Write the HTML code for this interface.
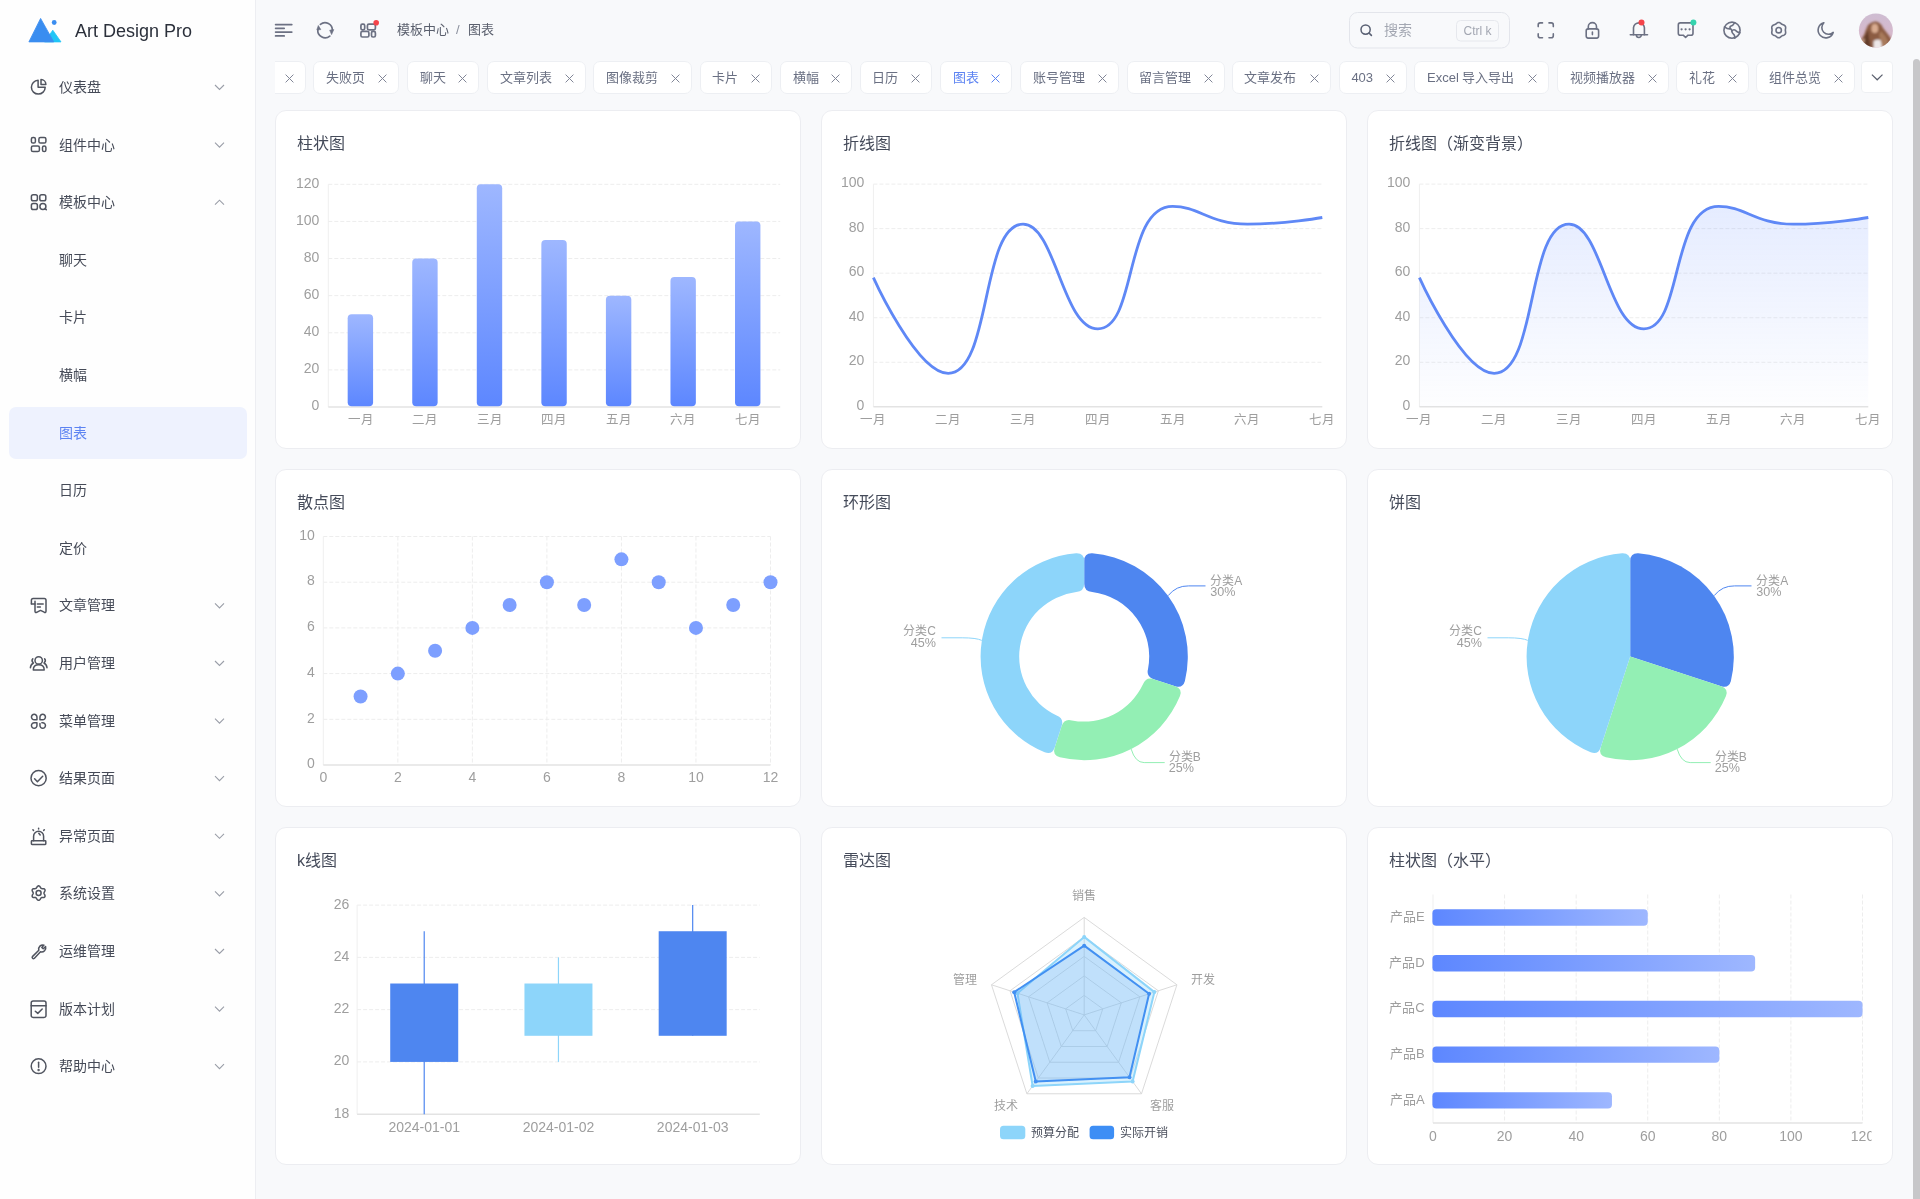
<!DOCTYPE html>
<html lang="zh-CN"><head><meta charset="utf-8"><title>Art Design Pro</title>
<style>
*{box-sizing:border-box;margin:0;padding:0}
html,body{width:1920px;height:1199px;overflow:hidden}
body{background:#F8F9FB;font-family:"Liberation Sans",sans-serif;position:relative;color:#3A3F4B}
.abs{position:absolute}
#side{position:absolute;left:0;top:0;width:256px;height:1199px;background:#FEFEFE;border-right:1px solid #EDEEF2}
.logo-t{position:absolute;left:75px;top:20px;font-size:18px;line-height:22px;color:#2B303B;white-space:nowrap}
.mi{position:absolute;left:59px;height:20px;line-height:20.6px;font-size:14px;color:#454A57;white-space:nowrap}
.mi.act{color:#5C83F2}
.hl{position:absolute;left:9px;width:237.5px;height:52px;border-radius:7px;background:#EEF2FE}
.tab{position:absolute;top:61px;height:33.4px;background:#fff;border:1px solid #EDEFF3;border-radius:7px;font-size:13px;color:#6A7083;white-space:nowrap}
.tab span{position:absolute;left:11.9px;top:0;line-height:31.4px}
.tab.act{color:#5C83F2}
.card{position:absolute;width:526px;background:#fff;border:1px solid #ECEDF1;border-radius:11px}
.ct{position:absolute;left:21px;top:22px;font-size:16px;line-height:22px;color:#454B5A;white-space:nowrap}
svg text{font-family:"Liberation Sans",sans-serif}
</style></head><body>
<div id="root" style="position:absolute;left:0;top:0;width:1920px;height:1199px;will-change:transform">
<div id="side">
<svg class="abs" style="left:0;top:0" width="256" height="60" viewBox="0 0 256 60">
<path d="M44.5 41.9 L52.8 30.2 L61 41.9 Z" fill="#20C5F6" stroke="#20C5F6" stroke-width="0.8" stroke-linejoin="round"/>
<path d="M28.9 41.9 L40.6 18.4 L53.75 41.9 Z" fill="#3A8DF0" stroke="#3A8DF0" stroke-width="0.8" stroke-linejoin="round"/>
<circle cx="54.2" cy="22.5" r="2.4" fill="#3A8DF0"/>
</svg>
<div class="logo-t">Art Design Pro</div>
<div class="mi" style="top:77px">仪表盘</div>
<div class="mi" style="top:134.6px">组件中心</div>
<div class="mi" style="top:192.2px">模板中心</div>
<div class="mi" style="top:249.8px">聊天</div>
<div class="mi" style="top:307.4px">卡片</div>
<div class="mi" style="top:365px">横幅</div>
<div class="hl" style="top:406.6px"></div>
<div class="mi act" style="top:422.6px">图表</div>
<div class="mi" style="top:480.2px">日历</div>
<div class="mi" style="top:537.8px">定价</div>
<div class="mi" style="top:595.4px">文章管理</div>
<div class="mi" style="top:653px">用户管理</div>
<div class="mi" style="top:710.6px">菜单管理</div>
<div class="mi" style="top:768.2px">结果页面</div>
<div class="mi" style="top:825.8px">异常页面</div>
<div class="mi" style="top:883.4px">系统设置</div>
<div class="mi" style="top:941px">运维管理</div>
<div class="mi" style="top:998.6px">版本计划</div>
<div class="mi" style="top:1056.2px">帮助中心</div>
<svg class="abs" style="left:0;top:0" width="256" height="1199" viewBox="0 0 256 1199"><path d="M215 85 l4.5 4.5 l4.5 -4.5" fill="none" stroke="#9A9EA8" stroke-width="1.1"/><g transform="translate(38.6 87)" fill="none" stroke="#50545F" stroke-width="1.5" stroke-linecap="round" stroke-linejoin="round"><path d="M-0.5 -6.7 A6.9 6.9 0 1 0 6.6 0.3 H-0.5 Z"/><path d="M2.4 -2.6 V-7.5 A5 5 0 0 1 7.3 -2.6 Z"/></g><path d="M215 142.6 l4.5 4.5 l4.5 -4.5" fill="none" stroke="#9A9EA8" stroke-width="1.1"/><g transform="translate(38.6 144.6)" fill="none" stroke="#50545F" stroke-width="1.5" stroke-linecap="round" stroke-linejoin="round"><rect x="-7.2" y="-7.2" width="4" height="5.6" rx="1.6"/><rect x="0.3" y="-7.2" width="7" height="5.6" rx="1.6"/><rect x="-7.2" y="1.4" width="8" height="5.6" rx="1.6"/><rect x="3.9" y="1.4" width="3.4" height="5.6" rx="1.6"/></g><path d="M215 204.7 l4.5 -4.5 l4.5 4.5" fill="none" stroke="#9A9EA8" stroke-width="1.1"/><g transform="translate(38.6 202.2)" fill="none" stroke="#50545F" stroke-width="1.5" stroke-linecap="round" stroke-linejoin="round"><rect x="-7.2" y="-7.5" width="6" height="6" rx="1.8"/><rect x="1.2" y="-7.5" width="6" height="6" rx="1.8"/><rect x="-7.2" y="1.4" width="6" height="6" rx="1.8"/><circle cx="4.3" cy="4.2" r="3"/><path d="M6.5 6.4 L7.7 7.6"/></g><path d="M215 603.4 l4.5 4.5 l4.5 -4.5" fill="none" stroke="#9A9EA8" stroke-width="1.1"/><g transform="translate(38.6 605.4)" fill="none" stroke="#50545F" stroke-width="1.5" stroke-linecap="round" stroke-linejoin="round"><path d="M-7.2 -1.6 V-5.2 Q-7.2 -7 -5.5 -7 H5.7 Q7.4 -7 7.4 -5.2 V5.6 Q7.4 7.6 5.6 6.8 L1.9 5 L-1.9 6.9 Q-3.6 7.6 -3.6 5.8 V-4.2"/><path d="M-7.2 -1.4 H-3.6"/><path d="M-1.2 -1.4 H4.6"/><path d="M-1.2 1.6 H1.8"/></g><path d="M215 661 l4.5 4.5 l4.5 -4.5" fill="none" stroke="#9A9EA8" stroke-width="1.1"/><g transform="translate(38.6 663)" fill="none" stroke="#50545F" stroke-width="1.5" stroke-linecap="round" stroke-linejoin="round"><circle cx="0.1" cy="-2.6" r="3.7"/><path d="M-5.3 6.9 Q-5.3 1.7 0.1 1.7 Q5.6 1.7 5.6 6.9 Z"/><path d="M-5.8 -4.2 Q-7.6 -2 -5.2 0 Q-8 1.5 -8.2 4.8"/><path d="M6 -4.2 Q7.8 -2 5.4 0 Q8.2 1.5 8.4 4.8"/></g><path d="M215 718.6 l4.5 4.5 l4.5 -4.5" fill="none" stroke="#9A9EA8" stroke-width="1.1"/><g transform="translate(38.6 720.6)" fill="none" stroke="#50545F" stroke-width="1.5" stroke-linecap="round" stroke-linejoin="round"><g transform="translate(-0.15 0.7)"><path d="M-1.5 -1.5 H-4.2 A2.75 2.75 0 1 1 -1.5 -4.25 Z"/><path d="M1.5 -1.5 H4.2 A2.75 2.75 0 1 0 1.5 -4.25 Z"/><path d="M-1.5 1.5 H-4.2 A2.75 2.75 0 1 0 -1.5 4.25 Z"/><path d="M1.5 2.2 V4.25 A2.75 2.75 0 1 0 4.2 1.5 H3.4"/></g></g><path d="M215 776.2 l4.5 4.5 l4.5 -4.5" fill="none" stroke="#9A9EA8" stroke-width="1.1"/><g transform="translate(38.6 778.2)" fill="none" stroke="#50545F" stroke-width="1.5" stroke-linecap="round" stroke-linejoin="round"><circle cx="0" cy="0" r="7.6"/><path d="M-4 0.6 L-1.2 3.5 L4.1 -2"/></g><path d="M215 833.8 l4.5 4.5 l4.5 -4.5" fill="none" stroke="#9A9EA8" stroke-width="1.1"/><g transform="translate(38.6 835.8)" fill="none" stroke="#50545F" stroke-width="1.5" stroke-linecap="round" stroke-linejoin="round"><path d="M-5 5 V0.5 A5 5 0 0 1 5 0.5 V5"/><rect x="-7.2" y="5" width="14.4" height="3.6" rx="0.6"/><path d="M0 -7.6 V-6.8"/><path d="M-5.7 -6 L-5.1 -5.4"/><path d="M5.7 -6 L5.1 -5.4"/><path d="M0.2 -2.5 L1.6 -0.8"/></g><path d="M215 891.4 l4.5 4.5 l4.5 -4.5" fill="none" stroke="#9A9EA8" stroke-width="1.1"/><g transform="translate(38.6 893.4)" fill="none" stroke="#50545F" stroke-width="1.5" stroke-linecap="round" stroke-linejoin="round"><path d="M0 -7.55 L0.62 -7.4 L1.18 -6.97 L1.63 -6.39 L1.99 -5.77 L2.31 -5.26 L2.67 -4.93 L3.14 -4.79 L3.74 -4.76 L4.45 -4.75 L5.19 -4.65 L5.83 -4.39 L6.28 -3.93 L6.46 -3.31 L6.37 -2.62 L6.09 -1.93 L5.74 -1.31 L5.46 -0.78 L5.35 -0.3 L5.46 0.18 L5.74 0.71 L6.09 1.33 L6.37 2.02 L6.46 2.71 L6.28 3.32 L5.83 3.79 L5.19 4.05 L4.45 4.15 L3.74 4.16 L3.14 4.19 L2.67 4.33 L2.31 4.66 L1.99 5.17 L1.63 5.79 L1.18 6.37 L0.62 6.8 L0 6.95 L-0.62 6.8 L-1.18 6.37 L-1.63 5.79 L-1.99 5.17 L-2.31 4.66 L-2.68 4.33 L-3.14 4.19 L-3.74 4.16 L-4.45 4.15 L-5.19 4.05 L-5.83 3.79 L-6.28 3.33 L-6.46 2.71 L-6.37 2.02 L-6.09 1.33 L-5.74 0.71 L-5.46 0.18 L-5.35 -0.3 L-5.46 -0.78 L-5.74 -1.31 L-6.09 -1.93 L-6.37 -2.62 L-6.46 -3.31 L-6.28 -3.93 L-5.83 -4.39 L-5.19 -4.65 L-4.45 -4.75 L-3.74 -4.76 L-3.14 -4.79 L-2.68 -4.93 L-2.31 -5.26 L-1.99 -5.77 L-1.63 -6.39 L-1.18 -6.97 L-0.62 -7.4 L0 -7.55 Z"/><circle cx="0" cy="-0.3" r="2.5"/></g><path d="M215 949 l4.5 4.5 l4.5 -4.5" fill="none" stroke="#9A9EA8" stroke-width="1.1"/><g transform="translate(38.6 951)" fill="none" stroke="#50545F" stroke-width="1.5" stroke-linecap="round" stroke-linejoin="round"><path transform="translate(0 1.4)" d="M-6.2 4.2 L0.2 -2.2 A4.2 4.2 0 0 1 5.4 -7.3 L3.2 -5 L4.6 -3.6 L7 -5.8 A4.2 4.2 0 0 1 1.9 -0.6 L-4.4 6 A1.3 1.3 0 0 1 -6.2 4.2 Z"/></g><path d="M215 1006.6 l4.5 4.5 l4.5 -4.5" fill="none" stroke="#9A9EA8" stroke-width="1.1"/><g transform="translate(38.6 1008.6)" fill="none" stroke="#50545F" stroke-width="1.5" stroke-linecap="round" stroke-linejoin="round"><rect x="-7.4" y="-7.6" width="14.8" height="16.4" rx="2"/><path d="M-7.4 -2.8 H7.4"/><path d="M-3.3 2.6 L-0.8 4.8 L3.6 0.4"/></g><path d="M215 1064.2 l4.5 4.5 l4.5 -4.5" fill="none" stroke="#9A9EA8" stroke-width="1.1"/><g transform="translate(38.6 1066.2)" fill="none" stroke="#50545F" stroke-width="1.5" stroke-linecap="round" stroke-linejoin="round"><circle cx="0" cy="0" r="7.4"/><path d="M0 -4 V1"/><circle cx="0" cy="3.8" r="0.45" fill="#50545F"/></g></svg>
</div>
<svg class="abs" style="left:0;top:0" width="1920" height="60" viewBox="0 0 1920 60"><g stroke="#6C7183" stroke-width="1.7" stroke-linecap="round" fill="none"><path d="M275.6 24.6 H291.8 M275.6 28.3 H284.2 M275.6 32.1 H291.8 M275.6 35.9 H284.2"/><path d="M320.4 24.4 A7.3 7.3 0 0 1 332.3 30.6"/><path d="M329.8 36.1 A7.3 7.3 0 0 1 317.9 29.4"/></g><path d="M329.7 30.2 L333.8 29.6 L331.6 34.6 Z" fill="#6C7183" stroke="#6C7183" stroke-width="0.6" stroke-linejoin="round"/><path d="M318.3 25.5 L320.8 29.6 L316.8 29.9 Z" fill="#6C7183" stroke="#6C7183" stroke-width="0.6" stroke-linejoin="round"/><g stroke="#6C7183" stroke-width="1.7" fill="none"><rect x="360.9" y="24.2" width="3.8" height="5.6" rx="1.5"/><rect x="367.4" y="24.2" width="8" height="5.6" rx="1.5"/><rect x="360.9" y="31.4" width="8" height="5.6" rx="1.5"/><rect x="371.5" y="31.4" width="3.9" height="5.6" rx="1.5"/></g><circle cx="376.2" cy="22.7" r="2.8" fill="#F5444A"/><rect x="1349.5" y="12.5" width="160" height="35.5" rx="8" fill="none" stroke="#E3E5EB"/><circle cx="1365.6" cy="29.6" r="4.6" fill="none" stroke="#596073" stroke-width="1.5"/><path d="M1369 33 L1371.4 35.4" stroke="#596073" stroke-width="1.6" stroke-linecap="round"/><rect x="1456.5" y="20.5" width="42" height="20.5" rx="4" fill="none" stroke="#E6E8ED"/><g stroke="#6C7183" stroke-width="1.6" stroke-linecap="round" stroke-linejoin="round" fill="none"><path d="M1538.2 26.6 V24.9 Q1538.2 22.9 1540.2 22.9 H1542.5"/><path d="M1549 22.9 H1551.3 Q1553.3 22.9 1553.3 24.9 V26.6"/><path d="M1538.2 33.9 V35.7 Q1538.2 37.7 1540.2 37.7 H1542.5"/><path d="M1549 37.7 H1551.3 Q1553.3 37.7 1553.3 35.7 V33.9"/><rect x="1586.2" y="28.9" width="12.4" height="9.2" rx="2"/><path d="M1588.3 28.9 V26.7 A4.1 4.1 0 0 1 1596.5 26.7 V28.9"/><path d="M1592.4 32 V34.6"/><path d="M1633.5 34.7 V27.6 A5.5 5.5 0 0 1 1644.4 27.6 V34.7"/><path d="M1630.3 34.7 H1647.5"/><path d="M1636.4 35 A2.45 2.45 0 0 0 1641.3 35"/><path d="M1680.3 22.9 H1691 Q1693 22.9 1693 24.9 V33.2 Q1693 35.2 1691 35.2 H1688 L1685.6 37.5 L1683.2 35.2 H1680.3 Q1678.3 35.2 1678.3 33.2 V24.9 Q1678.3 22.9 1680.3 22.9 Z"/><circle cx="1732" cy="30.2" r="8.1"/><path d="M1724.6 26.8 Q1727.5 29.2 1730.5 28.8 Q1729.4 27 1730.6 26.2 Q1733.2 25.4 1734.5 22.8"/><path d="M1730.5 28.8 Q1731.9 29.4 1731.8 31 Q1731.7 33 1734.1 34.8 Q1734.9 36 1734.7 38.1"/><path d="M1731.8 31 Q1733.6 28.9 1735.6 30.4 Q1737.2 32.4 1739.9 32.6"/><path d="M1778.7 22.45 L1779.36 22.55 L1779.98 22.81 L1780.55 23.19 L1781.06 23.62 L1781.54 24.01 L1782.03 24.34 L1782.55 24.6 L1783.14 24.81 L1783.76 25.04 L1784.37 25.34 L1784.91 25.75 L1785.33 26.27 L1785.57 26.9 L1785.65 27.57 L1785.61 28.25 L1785.5 28.9 L1785.39 29.51 L1785.35 30.1 L1785.39 30.69 L1785.5 31.3 L1785.61 31.95 L1785.65 32.63 L1785.57 33.3 L1785.33 33.92 L1784.91 34.45 L1784.37 34.86 L1783.76 35.16 L1783.14 35.39 L1782.55 35.6 L1782.03 35.86 L1781.54 36.19 L1781.06 36.58 L1780.55 37.01 L1779.98 37.39 L1779.36 37.65 L1778.7 37.75 L1778.04 37.65 L1777.42 37.39 L1776.85 37.01 L1776.34 36.58 L1775.86 36.19 L1775.38 35.86 L1774.85 35.6 L1774.26 35.39 L1773.64 35.16 L1773.03 34.86 L1772.49 34.45 L1772.07 33.93 L1771.83 33.3 L1771.75 32.63 L1771.79 31.95 L1771.9 31.3 L1772.01 30.69 L1772.05 30.1 L1772.01 29.51 L1771.9 28.9 L1771.79 28.25 L1771.75 27.57 L1771.83 26.9 L1772.07 26.27 L1772.49 25.75 L1773.03 25.34 L1773.64 25.04 L1774.26 24.81 L1774.85 24.6 L1775.38 24.34 L1775.86 24.01 L1776.34 23.62 L1776.85 23.19 L1777.42 22.81 L1778.04 22.55 L1778.7 22.45 Z"/><circle cx="1778.7" cy="30.2" r="2.7"/><path d="M1823.9 22.7 A7.7 7.7 0 1 0 1833.2 32.4 A6.4 6.4 0 0 1 1823.9 22.7 Z"/></g><circle cx="1641.5" cy="22.5" r="3" fill="#F5444A"/><circle cx="1693.4" cy="22.5" r="3" fill="#35D4AE"/><g fill="#6C7183"><circle cx="1681.6" cy="29.3" r="1.1"/><circle cx="1685.6" cy="29.3" r="1.1"/><circle cx="1689.6" cy="29.3" r="1.1"/></g><defs><clipPath id="avc"><circle cx="1875.9" cy="30.55" r="17"/></clipPath>
<linearGradient id="avbg" x1="0" y1="0" x2="0" y2="1"><stop offset="0" stop-color="#CEBDD2"/><stop offset="0.6" stop-color="#D6B9CC"/><stop offset="1" stop-color="#D9B3C2"/></linearGradient>
<filter id="avb" x="-20%" y="-20%" width="140%" height="140%"><feGaussianBlur stdDeviation="0.9"/></filter></defs>
<g clip-path="url(#avc)"><rect x="1858" y="13" width="36" height="36" fill="url(#avbg)"/>
<g filter="url(#avb)">
<path d="M1859 49 Q1860 40 1864 35 Q1866 29 1868 25 Q1872 21 1876 21.5 Q1881 22.5 1883 28 Q1887 33 1890 37 Q1893 42 1893 49 Z" fill="#8C5C42"/>
<path d="M1861 46 Q1864 37 1868 30 Q1869 39 1871 49 L1861 49 Z" fill="#633D2C"/>
<path d="M1881 31 Q1885 35 1888 41 L1886 49 L1882 49 Q1881 40 1879 35 Z" fill="#A87A5C"/>
<path d="M1864 39 Q1862 43 1861.5 48" stroke="#C9A084" stroke-width="2.2" fill="none"/>
<ellipse cx="1874.8" cy="28.4" rx="3.4" ry="4.6" fill="#D9AC90"/>
<path d="M1873.5 41 Q1876.5 38.5 1880.5 40 Q1882 44 1882 49 L1873.5 49 Z" fill="#EDE8E8"/>
</g></g></svg>
<div class="abs" style="left:397.4px;top:20px;font-size:13px;line-height:20px;color:#5A5F6D;white-space:nowrap">模板中心</div>
<div class="abs" style="left:456px;top:20px;font-size:13px;line-height:20px;color:#8A8F9C">/</div>
<div class="abs" style="left:467.9px;top:20px;font-size:13px;line-height:20px;color:#5A5F6D;white-space:nowrap">图表</div>
<div class="abs" style="left:1383.8px;top:20px;font-size:14px;line-height:20px;color:#A3A7B2">搜索</div>
<div class="abs" style="left:1456.5px;top:21px;width:42px;text-align:center;font-size:12px;line-height:20px;color:#A3A7B2">Ctrl k</div>
<div class="abs" style="left:275px;top:0;width:1590px;height:100px;overflow:hidden">
<div class="tab" style="left:-69.2px;width:100px"><span></span><svg style="position:absolute;right:11px;top:11.5px" width="9" height="9" viewBox="0 0 9 9"><path d="M0.6 0.6 L8.4 8.4 M8.4 0.6 L0.6 8.4" stroke="#818697" stroke-width="1"/></svg></div>
<div class="tab" style="left:38.2px;width:85.9px"><span>失败页</span><svg style="position:absolute;right:11px;top:11.5px" width="9" height="9" viewBox="0 0 9 9"><path d="M0.6 0.6 L8.4 8.4 M8.4 0.6 L0.6 8.4" stroke="#818697" stroke-width="1"/></svg></div>
<div class="tab" style="left:131.7px;width:72.6px"><span>聊天</span><svg style="position:absolute;right:11px;top:11.5px" width="9" height="9" viewBox="0 0 9 9"><path d="M0.6 0.6 L8.4 8.4 M8.4 0.6 L0.6 8.4" stroke="#818697" stroke-width="1"/></svg></div>
<div class="tab" style="left:211.9px;width:99px"><span>文章列表</span><svg style="position:absolute;right:11px;top:11.5px" width="9" height="9" viewBox="0 0 9 9"><path d="M0.6 0.6 L8.4 8.4 M8.4 0.6 L0.6 8.4" stroke="#818697" stroke-width="1"/></svg></div>
<div class="tab" style="left:318px;width:99px"><span>图像裁剪</span><svg style="position:absolute;right:11px;top:11.5px" width="9" height="9" viewBox="0 0 9 9"><path d="M0.6 0.6 L8.4 8.4 M8.4 0.6 L0.6 8.4" stroke="#818697" stroke-width="1"/></svg></div>
<div class="tab" style="left:424.6px;width:72.2px"><span>卡片</span><svg style="position:absolute;right:11px;top:11.5px" width="9" height="9" viewBox="0 0 9 9"><path d="M0.6 0.6 L8.4 8.4 M8.4 0.6 L0.6 8.4" stroke="#818697" stroke-width="1"/></svg></div>
<div class="tab" style="left:504.8px;width:72.2px"><span>横幅</span><svg style="position:absolute;right:11px;top:11.5px" width="9" height="9" viewBox="0 0 9 9"><path d="M0.6 0.6 L8.4 8.4 M8.4 0.6 L0.6 8.4" stroke="#818697" stroke-width="1"/></svg></div>
<div class="tab" style="left:584.6px;width:72.6px"><span>日历</span><svg style="position:absolute;right:11px;top:11.5px" width="9" height="9" viewBox="0 0 9 9"><path d="M0.6 0.6 L8.4 8.4 M8.4 0.6 L0.6 8.4" stroke="#818697" stroke-width="1"/></svg></div>
<div class="tab act" style="left:664.8px;width:72.7px"><span>图表</span><svg style="position:absolute;right:11px;top:11.5px" width="9" height="9" viewBox="0 0 9 9"><path d="M0.6 0.6 L8.4 8.4 M8.4 0.6 L0.6 8.4" stroke="#5C83F2" stroke-width="1"/></svg></div>
<div class="tab" style="left:745px;width:99px"><span>账号管理</span><svg style="position:absolute;right:11px;top:11.5px" width="9" height="9" viewBox="0 0 9 9"><path d="M0.6 0.6 L8.4 8.4 M8.4 0.6 L0.6 8.4" stroke="#818697" stroke-width="1"/></svg></div>
<div class="tab" style="left:851.5px;width:98.5px"><span>留言管理</span><svg style="position:absolute;right:11px;top:11.5px" width="9" height="9" viewBox="0 0 9 9"><path d="M0.6 0.6 L8.4 8.4 M8.4 0.6 L0.6 8.4" stroke="#818697" stroke-width="1"/></svg></div>
<div class="tab" style="left:956.5px;width:99.7px"><span>文章发布</span><svg style="position:absolute;right:11px;top:11.5px" width="9" height="9" viewBox="0 0 9 9"><path d="M0.6 0.6 L8.4 8.4 M8.4 0.6 L0.6 8.4" stroke="#818697" stroke-width="1"/></svg></div>
<div class="tab" style="left:1063.5px;width:68.8px"><span>403</span><svg style="position:absolute;right:11px;top:11.5px" width="9" height="9" viewBox="0 0 9 9"><path d="M0.6 0.6 L8.4 8.4 M8.4 0.6 L0.6 8.4" stroke="#818697" stroke-width="1"/></svg></div>
<div class="tab" style="left:1139.1px;width:134.9px"><span>Excel 导入导出</span><svg style="position:absolute;right:11px;top:11.5px" width="9" height="9" viewBox="0 0 9 9"><path d="M0.6 0.6 L8.4 8.4 M8.4 0.6 L0.6 8.4" stroke="#818697" stroke-width="1"/></svg></div>
<div class="tab" style="left:1281.8px;width:111.8px"><span>视频播放器</span><svg style="position:absolute;right:11px;top:11.5px" width="9" height="9" viewBox="0 0 9 9"><path d="M0.6 0.6 L8.4 8.4 M8.4 0.6 L0.6 8.4" stroke="#818697" stroke-width="1"/></svg></div>
<div class="tab" style="left:1401px;width:72.8px"><span>礼花</span><svg style="position:absolute;right:11px;top:11.5px" width="9" height="9" viewBox="0 0 9 9"><path d="M0.6 0.6 L8.4 8.4 M8.4 0.6 L0.6 8.4" stroke="#818697" stroke-width="1"/></svg></div>
<div class="tab" style="left:1481.1px;width:98.9px"><span>组件总览</span><svg style="position:absolute;right:11px;top:11.5px" width="9" height="9" viewBox="0 0 9 9"><path d="M0.6 0.6 L8.4 8.4 M8.4 0.6 L0.6 8.4" stroke="#818697" stroke-width="1"/></svg></div>
</div>
<div class="abs" style="left:1860.6px;top:61.4px;width:32px;height:31.6px;background:#fff;border:1px solid #EEF0F3;border-radius:4px"></div>
<svg class="abs" style="left:1860px;top:60px" width="33" height="33" viewBox="1860 60 33 33"><path d="M1871.9 74.6 L1877.2 79.8 L1882.5 74.6" fill="none" stroke="#5A5F6D" stroke-width="1.2"/></svg>
<div class="abs" style="left:1913px;top:58.6px;width:7px;height:1150px;background:#C7C7C9;border-radius:4px 4px 0 0"></div>
<div class="card" style="left:275px;top:110px;height:339px"><div class="ct">柱状图</div></div>
<div class="card" style="left:821px;top:110px;height:339px"><div class="ct">折线图</div></div>
<div class="card" style="left:1367px;top:110px;height:339px"><div class="ct">折线图（渐变背景）</div></div>
<div class="card" style="left:275px;top:469px;height:338px"><div class="ct">散点图</div></div>
<div class="card" style="left:821px;top:469px;height:338px"><div class="ct">环形图</div></div>
<div class="card" style="left:1367px;top:469px;height:338px"><div class="ct">饼图</div></div>
<div class="card" style="left:275px;top:827px;height:338px"><div class="ct">k线图</div></div>
<div class="card" style="left:821px;top:827px;height:338px"><div class="ct">雷达图</div></div>
<div class="card" style="left:1367px;top:827px;height:338px"><div class="ct">柱状图（水平）</div></div>
<svg class="abs" style="left:0;top:0" width="1920" height="1199" viewBox="0 0 1920 1199"><defs>
<linearGradient id="gbar" x1="0" y1="0" x2="0" y2="1"><stop offset="0" stop-color="#9EB7FF"/><stop offset="1" stop-color="#5D87FF"/></linearGradient>
<linearGradient id="ghbar" x1="0" y1="0" x2="1" y2="0"><stop offset="0" stop-color="#5D87FF"/><stop offset="1" stop-color="#9EB7FF"/></linearGradient>
<linearGradient id="garea" x1="0" y1="0" x2="0" y2="1"><stop offset="0" stop-color="#5D87FF" stop-opacity="0.16"/><stop offset="1" stop-color="#5D87FF" stop-opacity="0.01"/></linearGradient>
</defs><text x="319.3" y="410.2" font-size="14" fill="#9E9E9E" text-anchor="end">0</text><path d="M328.3 369.88 H780.2" stroke="#EDEDED" stroke-width="1" stroke-dasharray="4 2"/><text x="319.3" y="373.08" font-size="14" fill="#9E9E9E" text-anchor="end">20</text><path d="M328.3 332.77 H780.2" stroke="#EDEDED" stroke-width="1" stroke-dasharray="4 2"/><text x="319.3" y="335.97" font-size="14" fill="#9E9E9E" text-anchor="end">40</text><path d="M328.3 295.65 H780.2" stroke="#EDEDED" stroke-width="1" stroke-dasharray="4 2"/><text x="319.3" y="298.85" font-size="14" fill="#9E9E9E" text-anchor="end">60</text><path d="M328.3 258.53 H780.2" stroke="#EDEDED" stroke-width="1" stroke-dasharray="4 2"/><text x="319.3" y="261.73" font-size="14" fill="#9E9E9E" text-anchor="end">80</text><path d="M328.3 221.42 H780.2" stroke="#EDEDED" stroke-width="1" stroke-dasharray="4 2"/><text x="319.3" y="224.62" font-size="14" fill="#9E9E9E" text-anchor="end">100</text><path d="M328.3 184.3 H780.2" stroke="#EDEDED" stroke-width="1" stroke-dasharray="4 2"/><text x="319.3" y="187.5" font-size="14" fill="#9E9E9E" text-anchor="end">120</text><path d="M328.3 184.3 V407" stroke="#EFEFEF"/><path d="M328.3 407 H780.2" stroke="#E3E3E3" stroke-width="1.5"/><rect x="347.68" y="314.21" width="25.4" height="91.99" rx="4" fill="url(#gbar)"/><text x="360.58" y="424" font-size="12.5" fill="#9E9E9E" text-anchor="middle">一月</text><rect x="412.24" y="258.53" width="25.4" height="147.67" rx="4" fill="url(#gbar)"/><text x="425.14" y="424" font-size="12.5" fill="#9E9E9E" text-anchor="middle">二月</text><rect x="476.79" y="184.3" width="25.4" height="221.9" rx="4" fill="url(#gbar)"/><text x="489.69" y="424" font-size="12.5" fill="#9E9E9E" text-anchor="middle">三月</text><rect x="541.35" y="239.97" width="25.4" height="166.22" rx="4" fill="url(#gbar)"/><text x="554.25" y="424" font-size="12.5" fill="#9E9E9E" text-anchor="middle">四月</text><rect x="605.91" y="295.65" width="25.4" height="110.55" rx="4" fill="url(#gbar)"/><text x="618.81" y="424" font-size="12.5" fill="#9E9E9E" text-anchor="middle">五月</text><rect x="670.46" y="277.09" width="25.4" height="129.11" rx="4" fill="url(#gbar)"/><text x="683.36" y="424" font-size="12.5" fill="#9E9E9E" text-anchor="middle">六月</text><rect x="735.02" y="221.42" width="25.4" height="184.78" rx="4" fill="url(#gbar)"/><text x="747.92" y="424" font-size="12.5" fill="#9E9E9E" text-anchor="middle">七月</text><text x="864.4" y="410" font-size="14" fill="#9E9E9E" text-anchor="end">0</text><path d="M873.4 362.26 H1322.3" stroke="#EDEDED" stroke-width="1" stroke-dasharray="4 2"/><text x="864.4" y="365.46" font-size="14" fill="#9E9E9E" text-anchor="end">20</text><path d="M873.4 317.72 H1322.3" stroke="#EDEDED" stroke-width="1" stroke-dasharray="4 2"/><text x="864.4" y="320.92" font-size="14" fill="#9E9E9E" text-anchor="end">40</text><path d="M873.4 273.18 H1322.3" stroke="#EDEDED" stroke-width="1" stroke-dasharray="4 2"/><text x="864.4" y="276.38" font-size="14" fill="#9E9E9E" text-anchor="end">60</text><path d="M873.4 228.64 H1322.3" stroke="#EDEDED" stroke-width="1" stroke-dasharray="4 2"/><text x="864.4" y="231.84" font-size="14" fill="#9E9E9E" text-anchor="end">80</text><path d="M873.4 184.1 H1322.3" stroke="#EDEDED" stroke-width="1" stroke-dasharray="4 2"/><text x="864.4" y="187.3" font-size="14" fill="#9E9E9E" text-anchor="end">100</text><path d="M873.4 184.1 V406.8" stroke="#EFEFEF"/><path d="M873.4 406.8 H1322.3" stroke="#E3E3E3" stroke-width="1.5"/><path d="M873.4 277.63 C873.4 277.63 916.7 373.39 948.22 373.39 C991.51 373.39 980.78 224.19 1023.03 224.19 C1055.6 224.19 1062.49 328.86 1097.85 328.86 C1137.3 328.86 1123.95 206.37 1172.67 206.37 C1198.77 206.37 1209.63 224.19 1247.48 224.19 C1284.45 224.19 1322.3 217.5 1322.3 217.5" fill="none" stroke="#5F88F6" stroke-width="2.8" stroke-linejoin="round"/><text x="873.4" y="424" font-size="12.5" fill="#9E9E9E" text-anchor="middle">一月</text><text x="948.22" y="424" font-size="12.5" fill="#9E9E9E" text-anchor="middle">二月</text><text x="1023.03" y="424" font-size="12.5" fill="#9E9E9E" text-anchor="middle">三月</text><text x="1097.85" y="424" font-size="12.5" fill="#9E9E9E" text-anchor="middle">四月</text><text x="1172.67" y="424" font-size="12.5" fill="#9E9E9E" text-anchor="middle">五月</text><text x="1247.48" y="424" font-size="12.5" fill="#9E9E9E" text-anchor="middle">六月</text><text x="1322.3" y="424" font-size="12.5" fill="#9E9E9E" text-anchor="middle">七月</text><text x="1410.4" y="410" font-size="14" fill="#9E9E9E" text-anchor="end">0</text><path d="M1419.4 362.26 H1868.3" stroke="#EDEDED" stroke-width="1" stroke-dasharray="4 2"/><text x="1410.4" y="365.46" font-size="14" fill="#9E9E9E" text-anchor="end">20</text><path d="M1419.4 317.72 H1868.3" stroke="#EDEDED" stroke-width="1" stroke-dasharray="4 2"/><text x="1410.4" y="320.92" font-size="14" fill="#9E9E9E" text-anchor="end">40</text><path d="M1419.4 273.18 H1868.3" stroke="#EDEDED" stroke-width="1" stroke-dasharray="4 2"/><text x="1410.4" y="276.38" font-size="14" fill="#9E9E9E" text-anchor="end">60</text><path d="M1419.4 228.64 H1868.3" stroke="#EDEDED" stroke-width="1" stroke-dasharray="4 2"/><text x="1410.4" y="231.84" font-size="14" fill="#9E9E9E" text-anchor="end">80</text><path d="M1419.4 184.1 H1868.3" stroke="#EDEDED" stroke-width="1" stroke-dasharray="4 2"/><text x="1410.4" y="187.3" font-size="14" fill="#9E9E9E" text-anchor="end">100</text><path d="M1419.4 184.1 V406.8" stroke="#EFEFEF"/><path d="M1419.4 406.8 H1868.3" stroke="#E3E3E3" stroke-width="1.5"/><path d="M1419.4 277.63 C1419.4 277.63 1462.7 373.39 1494.22 373.39 C1537.51 373.39 1526.78 224.19 1569.03 224.19 C1601.6 224.19 1608.49 328.86 1643.85 328.86 C1683.3 328.86 1669.95 206.37 1718.67 206.37 C1744.77 206.37 1755.63 224.19 1793.48 224.19 C1830.45 224.19 1868.3 217.5 1868.3 217.5 L1868.3 406.8 L1419.4 406.8 Z" fill="url(#garea)"/><path d="M1419.4 277.63 C1419.4 277.63 1462.7 373.39 1494.22 373.39 C1537.51 373.39 1526.78 224.19 1569.03 224.19 C1601.6 224.19 1608.49 328.86 1643.85 328.86 C1683.3 328.86 1669.95 206.37 1718.67 206.37 C1744.77 206.37 1755.63 224.19 1793.48 224.19 C1830.45 224.19 1868.3 217.5 1868.3 217.5" fill="none" stroke="#5F88F6" stroke-width="2.8" stroke-linejoin="round"/><text x="1419.4" y="424" font-size="12.5" fill="#9E9E9E" text-anchor="middle">一月</text><text x="1494.22" y="424" font-size="12.5" fill="#9E9E9E" text-anchor="middle">二月</text><text x="1569.03" y="424" font-size="12.5" fill="#9E9E9E" text-anchor="middle">三月</text><text x="1643.85" y="424" font-size="12.5" fill="#9E9E9E" text-anchor="middle">四月</text><text x="1718.67" y="424" font-size="12.5" fill="#9E9E9E" text-anchor="middle">五月</text><text x="1793.48" y="424" font-size="12.5" fill="#9E9E9E" text-anchor="middle">六月</text><text x="1868.3" y="424" font-size="12.5" fill="#9E9E9E" text-anchor="middle">七月</text><text x="314.8" y="768.2" font-size="14" fill="#9E9E9E" text-anchor="end">0</text><path d="M323.3 719.3 H770.5" stroke="#EDEDED" stroke-width="1" stroke-dasharray="4 2"/><text x="314.8" y="722.5" font-size="14" fill="#9E9E9E" text-anchor="end">2</text><path d="M323.3 673.6 H770.5" stroke="#EDEDED" stroke-width="1" stroke-dasharray="4 2"/><text x="314.8" y="676.8" font-size="14" fill="#9E9E9E" text-anchor="end">4</text><path d="M323.3 627.9 H770.5" stroke="#EDEDED" stroke-width="1" stroke-dasharray="4 2"/><text x="314.8" y="631.1" font-size="14" fill="#9E9E9E" text-anchor="end">6</text><path d="M323.3 582.2 H770.5" stroke="#EDEDED" stroke-width="1" stroke-dasharray="4 2"/><text x="314.8" y="585.4" font-size="14" fill="#9E9E9E" text-anchor="end">8</text><path d="M323.3 536.5 H770.5" stroke="#EDEDED" stroke-width="1" stroke-dasharray="4 2"/><text x="314.8" y="539.7" font-size="14" fill="#9E9E9E" text-anchor="end">10</text><text x="323.3" y="782.4" font-size="14" fill="#9E9E9E" text-anchor="middle">0</text><path d="M397.83 536.5 V765" stroke="#EDEDED" stroke-width="1" stroke-dasharray="4 2"/><text x="397.83" y="782.4" font-size="14" fill="#9E9E9E" text-anchor="middle">2</text><path d="M472.37 536.5 V765" stroke="#EDEDED" stroke-width="1" stroke-dasharray="4 2"/><text x="472.37" y="782.4" font-size="14" fill="#9E9E9E" text-anchor="middle">4</text><path d="M546.9 536.5 V765" stroke="#EDEDED" stroke-width="1" stroke-dasharray="4 2"/><text x="546.9" y="782.4" font-size="14" fill="#9E9E9E" text-anchor="middle">6</text><path d="M621.43 536.5 V765" stroke="#EDEDED" stroke-width="1" stroke-dasharray="4 2"/><text x="621.43" y="782.4" font-size="14" fill="#9E9E9E" text-anchor="middle">8</text><path d="M695.97 536.5 V765" stroke="#EDEDED" stroke-width="1" stroke-dasharray="4 2"/><text x="695.97" y="782.4" font-size="14" fill="#9E9E9E" text-anchor="middle">10</text><path d="M770.5 536.5 V765" stroke="#EDEDED" stroke-width="1" stroke-dasharray="4 2"/><text x="770.5" y="782.4" font-size="14" fill="#9E9E9E" text-anchor="middle">12</text><path d="M323.3 536.5 V765" stroke="#EFEFEF"/><path d="M323.3 765 H770.5" stroke="#E3E3E3" stroke-width="1.5"/><circle cx="360.57" cy="696.45" r="7" fill="#7D9FFF"/><circle cx="397.83" cy="673.6" r="7" fill="#7D9FFF"/><circle cx="435.1" cy="650.75" r="7" fill="#7D9FFF"/><circle cx="472.37" cy="627.9" r="7" fill="#7D9FFF"/><circle cx="509.63" cy="605.05" r="7" fill="#7D9FFF"/><circle cx="546.9" cy="582.2" r="7" fill="#7D9FFF"/><circle cx="584.17" cy="605.05" r="7" fill="#7D9FFF"/><circle cx="621.43" cy="559.35" r="7" fill="#7D9FFF"/><circle cx="658.7" cy="582.2" r="7" fill="#7D9FFF"/><circle cx="695.97" cy="627.9" r="7" fill="#7D9FFF"/><circle cx="733.23" cy="605.05" r="7" fill="#7D9FFF"/><circle cx="770.5" cy="582.2" r="7" fill="#7D9FFF"/><path d="M1084.2 561 Q1084.2 553 1092.19 553.31 A103.6 103.6 0 0 1 1184.91 680.92 Q1182.73 688.61 1175.12 686.14 L1153.63 679.16 Q1146.02 676.69 1148.02 668.94 A65 65 0 0 0 1092.18 592.09 Q1084.2 591.6 1084.2 583.6 Z" fill="#4E86F0"/><path d="M1175.12 686.14 Q1182.73 688.61 1179.97 696.12 A103.6 103.6 0 0 1 1059.88 757.31 Q1052.19 755.13 1054.66 747.52 L1061.64 726.03 Q1064.11 718.42 1071.86 720.42 A65 65 0 0 0 1143.09 684.12 Q1146.02 676.69 1153.63 679.16 Z" fill="#93EFB4"/><path d="M1054.66 747.52 Q1052.19 755.13 1044.68 752.37 A103.6 103.6 0 0 1 1076.21 553.31 Q1084.2 553 1084.2 561 L1084.2 583.6 Q1084.2 591.6 1076.22 592.09 A65 65 0 0 0 1056.68 715.49 Q1064.11 718.42 1061.64 726.03 Z" fill="#8DD5FA"/><path d="M1168.2 595.6 Q1176.2 585.6 1188.7 585.9 H1205.5" fill="none" stroke="#4E86F0"/><path d="M1131.2 749.1 Q1135.2 762.6 1144.2 762.6 H1164.7" fill="none" stroke="#93EFB4"/><path d="M981.8 640.4 Q976.2 637.8 962.2 637.8 H941.5" fill="none" stroke="#8DD5FA"/><text x="1210.2" y="584.8" font-size="12" fill="#9E9E9E" text-anchor="start">分类A</text><text x="1210.2" y="595.6" font-size="12.6" fill="#9E9E9E" text-anchor="start">30%</text><text x="1168.7" y="760.6" font-size="12" fill="#9E9E9E" text-anchor="start">分类B</text><text x="1168.7" y="771.6" font-size="12.6" fill="#9E9E9E" text-anchor="start">25%</text><text x="935.9" y="635.4" font-size="12" fill="#9E9E9E" text-anchor="end">分类C</text><text x="935.9" y="646.8" font-size="12.6" fill="#9E9E9E" text-anchor="end">45%</text><path d="M1630.2 656.6 L1630.2 561 Q1630.2 553 1638.19 553.31 A103.6 103.6 0 0 1 1730.91 680.92 Q1728.73 688.61 1721.12 686.14 Z" fill="#4E86F0"/><path d="M1630.2 656.6 L1721.12 686.14 Q1728.73 688.61 1725.97 696.12 A103.6 103.6 0 0 1 1605.88 757.31 Q1598.19 755.13 1600.66 747.52 Z" fill="#93EFB4"/><path d="M1630.2 656.6 L1600.66 747.52 Q1598.19 755.13 1590.68 752.37 A103.6 103.6 0 0 1 1622.21 553.31 Q1630.2 553 1630.2 561 Z" fill="#8DD5FA"/><path d="M1714.2 595.6 Q1722.2 585.6 1734.7 585.9 H1751.5" fill="none" stroke="#4E86F0"/><path d="M1677.2 749.1 Q1681.2 762.6 1690.2 762.6 H1710.7" fill="none" stroke="#93EFB4"/><path d="M1527.8 640.4 Q1522.2 637.8 1508.2 637.8 H1487.5" fill="none" stroke="#8DD5FA"/><text x="1756.2" y="584.8" font-size="12" fill="#9E9E9E" text-anchor="start">分类A</text><text x="1756.2" y="595.6" font-size="12.6" fill="#9E9E9E" text-anchor="start">30%</text><text x="1714.7" y="760.6" font-size="12" fill="#9E9E9E" text-anchor="start">分类B</text><text x="1714.7" y="771.6" font-size="12.6" fill="#9E9E9E" text-anchor="start">25%</text><text x="1481.9" y="635.4" font-size="12" fill="#9E9E9E" text-anchor="end">分类C</text><text x="1481.9" y="646.8" font-size="12.6" fill="#9E9E9E" text-anchor="end">45%</text><text x="349.3" y="1117.6" font-size="14" fill="#9E9E9E" text-anchor="end">18</text><path d="M357.1 1061.92 H759.8" stroke="#EDEDED" stroke-width="1" stroke-dasharray="4 2"/><text x="349.3" y="1065.33" font-size="14" fill="#9E9E9E" text-anchor="end">20</text><path d="M357.1 1009.65 H759.8" stroke="#EDEDED" stroke-width="1" stroke-dasharray="4 2"/><text x="349.3" y="1013.05" font-size="14" fill="#9E9E9E" text-anchor="end">22</text><path d="M357.1 957.38 H759.8" stroke="#EDEDED" stroke-width="1" stroke-dasharray="4 2"/><text x="349.3" y="960.77" font-size="14" fill="#9E9E9E" text-anchor="end">24</text><path d="M357.1 905.1 H759.8" stroke="#EDEDED" stroke-width="1" stroke-dasharray="4 2"/><text x="349.3" y="908.5" font-size="14" fill="#9E9E9E" text-anchor="end">26</text><path d="M357.1 905.1 V1114.2" stroke="#EFEFEF"/><path d="M357.1 1114.2 H759.8" stroke="#E3E3E3" stroke-width="1.5"/><path d="M424.22 931.24 V1114.2" stroke="#4E86F0" stroke-width="1.2"/><rect x="390.22" y="983.51" width="68" height="78.41" fill="#4E86F0"/><text x="424.22" y="1132.2" font-size="14" fill="#9E9E9E" text-anchor="middle">2024-01-01</text><path d="M558.45 957.38 V1061.92" stroke="#8DD5FA" stroke-width="1.2"/><rect x="524.45" y="983.51" width="68" height="52.28" fill="#8DD5FA"/><text x="558.45" y="1132.2" font-size="14" fill="#9E9E9E" text-anchor="middle">2024-01-02</text><path d="M692.68 905.1 V1035.79" stroke="#4E86F0" stroke-width="1.2"/><rect x="658.68" y="931.24" width="68" height="104.55" fill="#4E86F0"/><text x="692.68" y="1132.2" font-size="14" fill="#9E9E9E" text-anchor="middle">2024-01-03</text><path d="M1084.2 995.4 L1065.65 1008.87 L1072.74 1030.68 L1095.66 1030.68 L1102.75 1008.87 Z" fill="none" stroke="#D6D6D6" stroke-width="0.9"/><path d="M1084.2 975.9 L1047.11 1002.85 L1061.28 1046.45 L1107.12 1046.45 L1121.29 1002.85 Z" fill="none" stroke="#D6D6D6" stroke-width="0.9"/><path d="M1084.2 956.4 L1028.56 996.82 L1049.81 1062.23 L1118.59 1062.23 L1139.84 996.82 Z" fill="none" stroke="#D6D6D6" stroke-width="0.9"/><path d="M1084.2 936.9 L1010.02 990.8 L1038.35 1078 L1130.05 1078 L1158.38 990.8 Z" fill="none" stroke="#D6D6D6" stroke-width="0.9"/><path d="M1084.2 917.4 L991.47 984.77 L1026.89 1093.78 L1141.51 1093.78 L1176.93 984.77 Z" fill="none" stroke="#D6D6D6" stroke-width="0.9"/><path d="M1084.2 1014.9 L1084.2 917.4" stroke="#D6D6D6" stroke-width="0.9"/><path d="M1084.2 1014.9 L991.47 984.77" stroke="#D6D6D6" stroke-width="0.9"/><path d="M1084.2 1014.9 L1026.89 1093.78" stroke="#D6D6D6" stroke-width="0.9"/><path d="M1084.2 1014.9 L1141.51 1093.78" stroke="#D6D6D6" stroke-width="0.9"/><path d="M1084.2 1014.9 L1176.93 984.77" stroke="#D6D6D6" stroke-width="0.9"/><path d="M1084.2 936.9 L1017.44 993.21 L1032.62 1085.89 L1132.63 1081.55 L1154.4 992.09 Z" fill="#8DD5FA" fill-opacity="0.32" stroke="#8DD5FA" stroke-width="2" stroke-linejoin="round"/><circle cx="1084.2" cy="936.9" r="2" fill="#8DD5FA"/><circle cx="1017.44" cy="993.21" r="2" fill="#8DD5FA"/><circle cx="1032.62" cy="1085.89" r="2" fill="#8DD5FA"/><circle cx="1132.63" cy="1081.55" r="2" fill="#8DD5FA"/><circle cx="1154.4" cy="992.09" r="2" fill="#8DD5FA"/><path d="M1084.2 945.67 L1014.19 992.15 L1035.77 1081.55 L1129.47 1077.21 L1149.11 993.81 Z" fill="#4290F2" fill-opacity="0.17" stroke="#4290F2" stroke-width="2" stroke-linejoin="round"/><circle cx="1084.2" cy="945.67" r="2" fill="#4290F2"/><circle cx="1014.19" cy="992.15" r="2" fill="#4290F2"/><circle cx="1035.77" cy="1081.55" r="2" fill="#4290F2"/><circle cx="1129.47" cy="1077.21" r="2" fill="#4290F2"/><circle cx="1149.11" cy="993.81" r="2" fill="#4290F2"/><text x="1084.2" y="899.5" font-size="12" fill="#9E9E9E" text-anchor="middle">销售</text><text x="1191.2" y="983.5" font-size="12" fill="#9E9E9E" text-anchor="start">开发</text><text x="1174.2" y="1110" font-size="12" fill="#9E9E9E" text-anchor="end">客服</text><text x="994.3" y="1110" font-size="12" fill="#9E9E9E" text-anchor="start">技术</text><text x="976.7" y="983.5" font-size="12" fill="#9E9E9E" text-anchor="end">管理</text><rect x="1000" y="1125.8" width="25.3" height="13.4" rx="3.5" fill="#8DD5FA"/><text x="1030.5" y="1137" font-size="12" fill="#4A4F5C" text-anchor="start">预算分配</text><rect x="1089.6" y="1125.8" width="24.5" height="13.4" rx="3.5" fill="#3D8EF5"/><text x="1119.7" y="1137" font-size="12" fill="#4A4F5C" text-anchor="start">实际开销</text><defs><clipPath id="hbclip"><rect x="1367" y="827" width="504.5" height="338"/></clipPath></defs><g clip-path="url(#hbclip)"><text x="1433" y="1140.8" font-size="14" fill="#9E9E9E" text-anchor="middle">0</text><path d="M1504.58 894.5 V1123" stroke="#EDEDED" stroke-width="1" stroke-dasharray="4 2"/><text x="1504.58" y="1140.8" font-size="14" fill="#9E9E9E" text-anchor="middle">20</text><path d="M1576.17 894.5 V1123" stroke="#EDEDED" stroke-width="1" stroke-dasharray="4 2"/><text x="1576.17" y="1140.8" font-size="14" fill="#9E9E9E" text-anchor="middle">40</text><path d="M1647.75 894.5 V1123" stroke="#EDEDED" stroke-width="1" stroke-dasharray="4 2"/><text x="1647.75" y="1140.8" font-size="14" fill="#9E9E9E" text-anchor="middle">60</text><path d="M1719.33 894.5 V1123" stroke="#EDEDED" stroke-width="1" stroke-dasharray="4 2"/><text x="1719.33" y="1140.8" font-size="14" fill="#9E9E9E" text-anchor="middle">80</text><path d="M1790.92 894.5 V1123" stroke="#EDEDED" stroke-width="1" stroke-dasharray="4 2"/><text x="1790.92" y="1140.8" font-size="14" fill="#9E9E9E" text-anchor="middle">100</text><path d="M1862.5 894.5 V1123" stroke="#EDEDED" stroke-width="1" stroke-dasharray="4 2"/><text x="1862.5" y="1140.8" font-size="14" fill="#9E9E9E" text-anchor="middle">120</text><path d="M1433 894.5 V1123" stroke="#EFEFEF"/><path d="M1433 1123 H1862.5" stroke="#E3E3E3" stroke-width="1.5"/><rect x="1432.4" y="1092.15" width="179.56" height="16.4" rx="4" fill="url(#ghbar)"/><text x="1424.6" y="1103.75" font-size="13" fill="#9E9E9E" text-anchor="end">产品A</text><rect x="1432.4" y="1046.45" width="286.93" height="16.4" rx="4" fill="url(#ghbar)"/><text x="1424.6" y="1058.05" font-size="13" fill="#9E9E9E" text-anchor="end">产品B</text><rect x="1432.4" y="1000.75" width="430.1" height="16.4" rx="4" fill="url(#ghbar)"/><text x="1424.6" y="1012.35" font-size="13" fill="#9E9E9E" text-anchor="end">产品C</text><rect x="1432.4" y="955.05" width="322.73" height="16.4" rx="4" fill="url(#ghbar)"/><text x="1424.6" y="966.65" font-size="13" fill="#9E9E9E" text-anchor="end">产品D</text><rect x="1432.4" y="909.35" width="215.35" height="16.4" rx="4" fill="url(#ghbar)"/><text x="1424.6" y="920.95" font-size="13" fill="#9E9E9E" text-anchor="end">产品E</text></g></svg>
</div>
</body></html>
